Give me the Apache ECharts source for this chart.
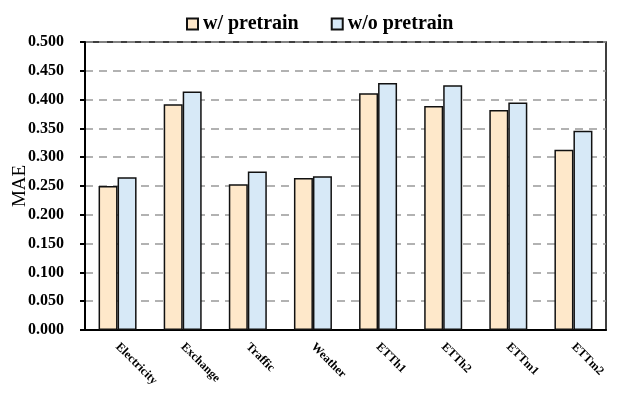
<!DOCTYPE html>
<html>
<head>
<meta charset="utf-8">
<script src="https://cdn.jsdelivr.net/npm/echarts@6/dist/echarts.min.js"></script>
<style>
html, body { margin: 0; padding: 0; background: #fff; }
#chart { width: 627px; height: 398px; }
</style>
</head>
<body>
<div id="chart"></div>
<script>
var categories = ['Electricity', 'Exchange', 'Traffic', 'Weather', 'ETTh1', 'ETTh2', 'ETTm1', 'ETTm2'];
var withPretrain = [0.250, 0.392, 0.253, 0.264, 0.411, 0.389, 0.382, 0.313];
var withoutPretrain = [0.265, 0.414, 0.275, 0.267, 0.429, 0.425, 0.395, 0.346];
var legendNames = ['w/ pretrain', 'w/o pretrain'];

var serif = 'Liberation Serif';

var option = {
    animation: false,
    backgroundColor: '#fff',
    legend: {
        data: legendNames,
        top: 9,
        left: 181,
        itemGap: 32,
        itemWidth: 11,
        itemHeight: 11,
        icon: 'rect',
        textStyle: { fontFamily: serif, fontWeight: 'bold', fontSize: 20, color: '#000' }
    },
    grid: {
        left: 85,
        right: 21,
        top: 42,
        bottom: 68,
        outerBoundsMode: 'none',
        show: true,
        borderColor: '#000',
        borderWidth: 1.5
    },
    xAxis: {
        type: 'category',
        data: categories,
        axisLine: { lineStyle: { color: '#000', width: 2 } },
        axisTick: { show: false },
        axisLabel: {
            rotate: -45,
            margin: 15,
            fontFamily: serif,
            fontWeight: 'bold',
            fontSize: 12,
            color: '#000'
        }
    },
    yAxis: {
        type: 'value',
        min: 0,
        max: 0.5,
        interval: 0.05,
        name: 'MAE',
        nameLocation: 'middle',
        nameGap: 55,
        nameMoveOverlap: false,
        nameTextStyle: { fontFamily: serif, fontSize: 19, color: '#000' },
        axisLine: { show: true, lineStyle: { color: '#000', width: 2 } },
        axisTick: { show: true, inside: false, length: 5, lineStyle: { color: '#000', width: 2 } },
        axisLabel: {
            margin: 21,
            fontFamily: serif,
            fontWeight: 'bold',
            fontSize: 16,
            color: '#000',
            formatter: function (v) { return v.toFixed(3); }
        },
        splitLine: { lineStyle: { color: '#999', type: [8, 6], width: 1.5 } }
    },
    series: [
        {
            name: legendNames[0],
            type: 'bar',
            data: withPretrain,
            barWidth: 19,
            barGap: '0%',
            itemStyle: { color: '#FEE8CA', borderColor: '#111', borderWidth: 1.5 }
        },
        {
            name: legendNames[1],
            type: 'bar',
            data: withoutPretrain,
            barWidth: 19,
            barGap: '0%',
            itemStyle: { color: '#D7E9F7', borderColor: '#111', borderWidth: 1.5 }
        }
    ]
};

var chart = echarts.init(document.getElementById('chart'));
chart.setOption(option);
</script>
</body>
</html>
